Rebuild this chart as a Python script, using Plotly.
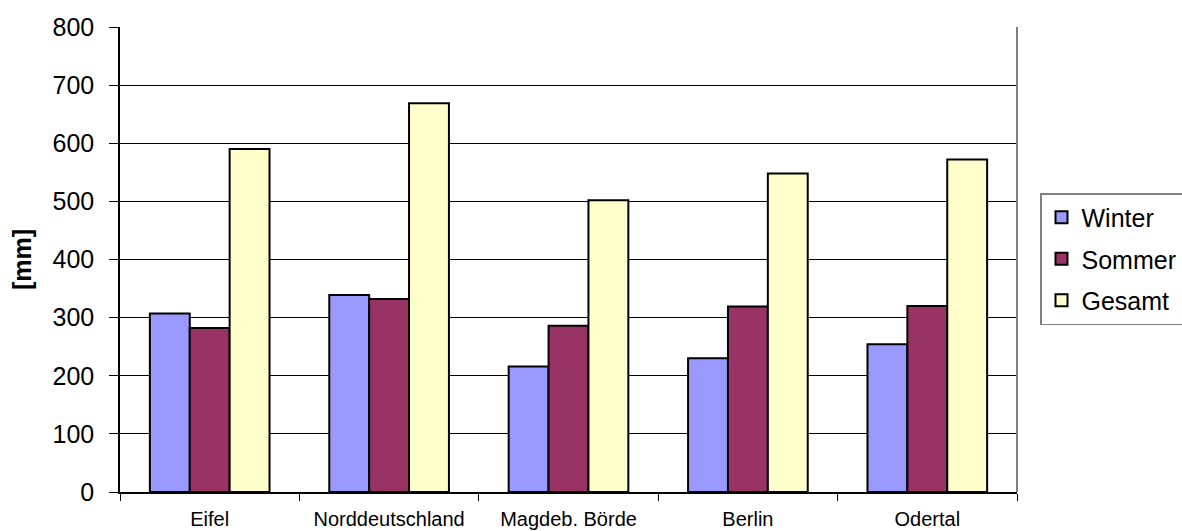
import plotly.graph_objects as go

# Niederschlag nach Region, Winter-/Sommerhalbjahr und Jahressumme
regionen = ["Eifel", "Norddeutschland", "Magdeb. Börde", "Berlin", "Odertal"]
winter = [307, 339, 216, 230, 254]
sommer = [282, 332, 286, 319, 320]
gesamt = [590, 669, 502, 548, 572]

serien = [
    ("Winter", winter, "#9999FF"),
    ("Sommer", sommer, "#993366"),
    ("Gesamt", gesamt, "#FFFFCC"),
]

FONT = "Liberation Sans, Arial, sans-serif"

fig = go.Figure()
for name, werte, farbe in serien:
    fig.add_trace(go.Bar(
        x=regionen,
        y=werte,
        name=name,
        legendgroup=name,
        marker=dict(color=farbe, line=dict(color="black", width=2)),
    ))

fig.update_layout(
    width=1182,
    height=531,
    margin=dict(l=120, r=165, t=27, b=39, autoexpand=False),
    paper_bgcolor="white",
    plot_bgcolor="white",
    barmode="group",
    bargap=0.333,
    bargroupgap=0,
    font=dict(family=FONT, color="black"),
    showlegend=True,
    legend=dict(
        xref="container",
        yref="container",
        x=1040 / 1182,
        xanchor="left",
        y=1 - 193 / 531,
        yanchor="top",
        font=dict(family=FONT, size=25, color="black"),
        bordercolor="#808080",
        borderwidth=1.5,
        bgcolor="white",
        tracegroupgap=6,
        itemwidth=30,
    ),
    xaxis=dict(
        type="category",
        automargin=False,
        showline=True,
        linecolor="black",
        linewidth=1.5,
        ticks="outside",
        tickson="boundaries",
        ticklen=7,
        tickcolor="black",
        tickwidth=1,
        tickfont=dict(family=FONT, size=20, color="black"),
        ticklabelstandoff=8,
        showgrid=False,
        fixedrange=True,
    ),
    yaxis=dict(
        range=[0, 800],
        dtick=100,
        automargin=False,
        showline=True,
        linecolor="black",
        linewidth=1.5,
        ticks="outside",
        ticklen=9,
        tickcolor="black",
        tickwidth=1,
        tickfont=dict(family=FONT, size=25, color="black"),
        ticklabelstandoff=10,
        showgrid=True,
        gridcolor="black",
        gridwidth=1,
        zeroline=False,
        title=dict(
            text="<b>[mm]</b>",
            font=dict(family=FONT, size=25, color="black"),
            standoff=14,
        ),
        fixedrange=True,
    ),
    shapes=[
        dict(
            type="line",
            xref="paper", yref="paper",
            x0=1, x1=1, y0=0, y1=1,
            line=dict(color="#808080", width=2),
        )
    ],
)

fig.write_html("out.html")
